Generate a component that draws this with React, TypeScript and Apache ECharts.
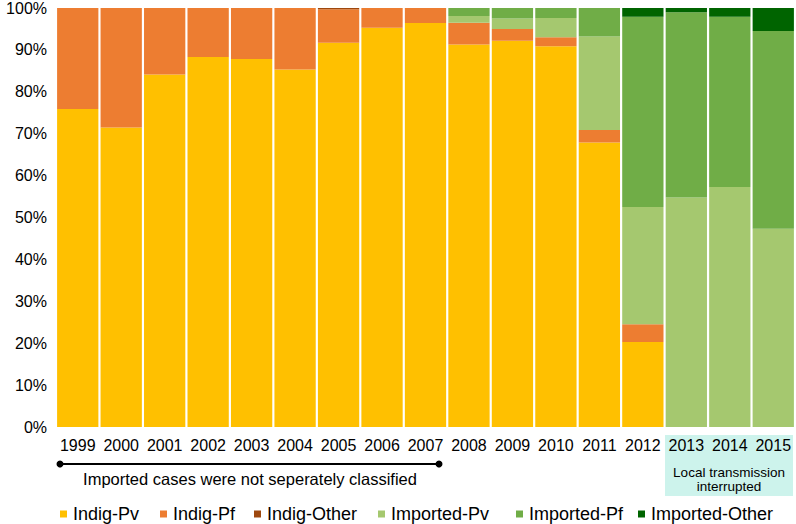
import React, { useEffect, useRef } from "react";
import * as echarts from "echarts";

const years = ["1999","2000","2001","2002","2003","2004","2005","2006","2007","2008","2009","2010","2011","2012","2013","2014","2015"];
const indigPv = [75.9, 71.5, 84.1, 88.3, 87.8, 85.3, 91.7, 95.3, 96.4, 91.3, 92.2, 90.9, 67.9, 20.3, 0, 0, 0];
const indigPf = [24.1, 28.5, 15.9, 11.7, 12.2, 14.7, 8, 4.7, 3.6, 5.2, 2.8, 2.1, 3.0, 4.2, 0, 0, 0];
const indigOther = [0, 0, 0, 0, 0, 0, 0.3, 0, 0, 0, 0, 0, 0, 0, 0, 0, 0];
const importedPv = [0, 0, 0, 0, 0, 0, 0, 0, 0, 1.6, 2.5, 4.6, 22.3, 28.0, 54.8, 57.3, 47.3];
const importedPf = [0, 0, 0, 0, 0, 0, 0, 0, 0, 1.9, 2.5, 2.4, 6.8, 45.4, 44.2, 40.6, 47.2];
const importedOther = [0, 0, 0, 0, 0, 0, 0, 0, 0, 0, 0, 0, 0, 2.1, 1.0, 2.1, 5.5];

const seriesNames = ["Indig-Pv", "Indig-Pf", "Indig-Other", "Imported-Pv", "Imported-Pf", "Imported-Other"];
const seriesData = [indigPv, indigPf, indigOther, importedPv, importedPf, importedOther];
const colors = ["#FFC000", "#ED7D31", "#9E480E", "#A5C86F", "#70AD47", "#006400"];
const legendLefts = [60, 160, 254, 378, 516, 638];

const FONT = "'Liberation Sans', Arial, sans-serif";

export default function App() {
  const ref = useRef<HTMLDivElement>(null);
  useEffect(() => {
    if (!ref.current) return;
    const chart = echarts.init(ref.current, null, { renderer: "svg" });
    chart.setOption({
      animation: false,
      textStyle: { fontFamily: FONT },
      grid: { left: 56, right: 1, top: 7, bottom: 97 },
      legend: seriesNames.map((n, i) => ({
        data: [n],
        left: legendLefts[i],
        top: 505,
        icon: "rect",
        itemWidth: 7,
        itemHeight: 7,
        itemGap: 6,
        textStyle: { fontSize: 18, color: "#000", fontFamily: FONT, padding: [0, 0, 0, 1] },
        padding: 0,
        selectedMode: false,
      })),
      xAxis: {
        type: "category",
        data: years,
        axisLine: { show: false },
        axisTick: { show: false },
        axisLabel: { interval: 0, fontSize: 16, color: "#000", margin: 10, fontFamily: FONT },
      },
      yAxis: {
        type: "value",
        min: 0,
        max: 100,
        interval: 10,
        splitLine: { show: false },
        axisLine: { show: false },
        axisTick: { show: false },
        axisLabel: { formatter: "{value}%", fontSize: 16, color: "#000", margin: 9, fontFamily: FONT },
      },
      graphic: [
        { type: "rect", z: -10, zlevel: 0, shape: { x: 665, y: 435, width: 128, height: 61 }, style: { fill: "#CDF3EC" } },
        { type: "line", shape: { x1: 60, y1: 464, x2: 439, y2: 464 }, style: { stroke: "#000", lineWidth: 2 } },
        { type: "circle", shape: { cx: 60, cy: 464, r: 3.5 }, style: { fill: "#000" } },
        { type: "circle", shape: { cx: 439, cy: 464, r: 3.5 }, style: { fill: "#000" } },
        { type: "text", x: 250, y: 479, style: { text: "Imported cases were not seperately classified", fontSize: 16.5, fill: "#000", align: "center", verticalAlign: "middle", fontFamily: FONT } },
        { type: "text", x: 729, y: 472, style: { text: "Local transmission", fontSize: 13.5, fill: "#000", align: "center", verticalAlign: "middle", fontFamily: FONT } },
        { type: "text", x: 729, y: 486, style: { text: "interrupted", fontSize: 13.5, fill: "#000", align: "center", verticalAlign: "middle", fontFamily: FONT } },
      ],
      series: seriesNames.map((n, i) => ({
        name: n,
        type: "bar",
        stack: "total",
        data: seriesData[i],
        barCategoryGap: "5%",
        itemStyle: { color: colors[i] },
      })),
    });
    return () => chart.dispose();
  }, []);
  return <div ref={ref} style={{ width: 796, height: 524, position: "absolute", left: 0, top: 0 }} />;
}
